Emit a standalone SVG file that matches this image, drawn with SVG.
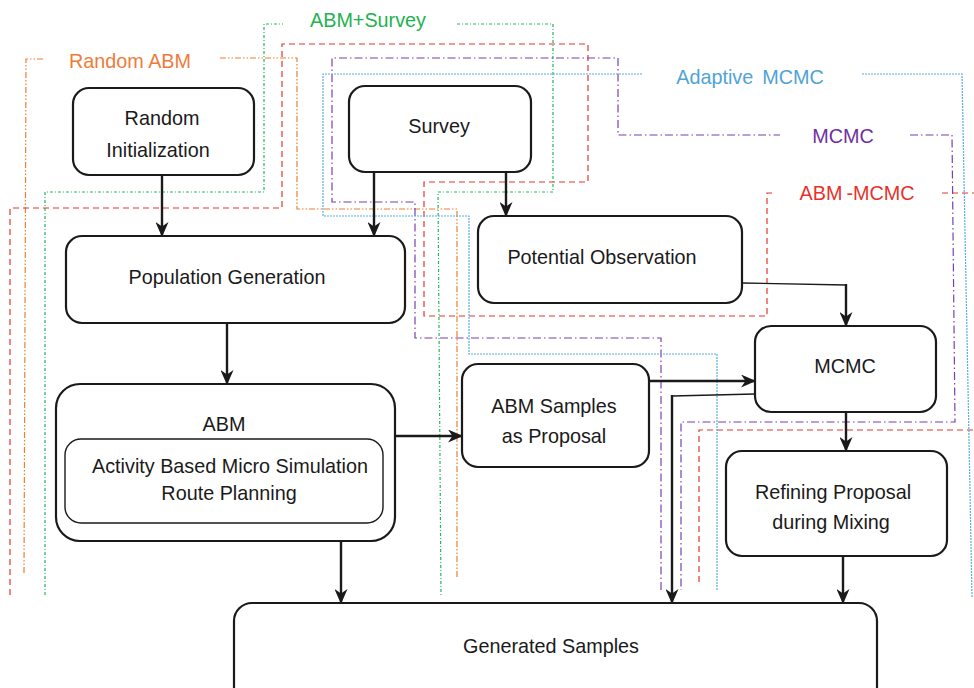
<svg xmlns="http://www.w3.org/2000/svg" width="974" height="688" viewBox="0 0 974 688">
<style>
text{font-family:"Liberation Sans",Arial,Helvetica,sans-serif;font-size:19.8px;fill:#1a1a1a;text-anchor:middle}
.node rect{fill:#fff;stroke:#1a1a1a;stroke-width:2.2}
.inner{fill:none!important;stroke-width:1.4!important}
.c{fill:none;stroke:#1a1a1a;stroke-width:2.4}
.ct{fill:none;stroke:#1a1a1a;stroke-width:1.4}
.g{fill:none;stroke-width:1.2}
.red{stroke:#e5362c;stroke-dasharray:6 4}
.org{stroke:#ef7f30;stroke-dasharray:6 2 1.5 2 1.5 2}
.grn{stroke:#1fb95a;stroke-dasharray:3 2 1 2}
.pur{stroke:#7b3fb0;stroke-dasharray:8 3 1.5 3}
.blu{stroke:#5aaee0;stroke-dasharray:2 1}
</style>
<defs>
<marker id="arr" viewBox="0 0 15 13" refX="14" refY="6.5" markerWidth="15" markerHeight="13" markerUnits="userSpaceOnUse" orient="auto">
<path d="M0,0 L15,6.5 L0,13 L4.5,6.5 Z" fill="#1a1a1a"/>
</marker>
</defs>
<g id="groups">
<path class="g org" d="M24,573 L26,59 L45,59 M220,58 L297,58 L297,209 L457,209 L457,577"/>
<path class="g grn" d="M45,595 L45,192 L264,192 L264,24 L283,24 M457,24 L553,24 L553,192 L438,192 L441,595"/>
<path class="g red" d="M10,595 L10,208 L282,208 L282,44 L588,44 L588,182 L424,182 L424,316 L767,316 L767,193 L775,193 M942,193 L974,193"/>
<path class="g red" d="M699,582 L699,430 L974,430"/>
<path class="g pur" d="M661,590 L661,338 L415,338 L415,202 L332,202 L332,58 L618,58 L618,135 L780,135 M910,135 L952,135 L955,422 L681,422 L681,590"/>
<path class="g blu" d="M717,590 L717,354 L469,354 L469,216 L323,216 L323,74 L642,74 M862,74 L962,74 L972,597"/>
<text x="130" y="68" style="fill:#ef7b3a">Random ABM</text>
<text x="368" y="27" style="fill:#22b24f">ABM+Survey</text>
<text x="750" y="84" style="fill:#4fa3d6">Adaptive<tspan dx="9">MCMC</tspan></text>
<text x="843" y="143" style="fill:#7030a0">MCMC</text>
<text x="857" y="200" style="fill:#e5332a">ABM<tspan dx="4">-MCMC</tspan></text>
</g>
<g id="connectors">
<path class="c" d="M162,175 L162,236" marker-end="url(#arr)"/>
<path class="c" d="M374,172 L374,236" marker-end="url(#arr)"/>
<path class="c" d="M506,172 L506,216" marker-end="url(#arr)"/>
<path class="c" d="M227,323 L227,384" marker-end="url(#arr)"/>
<path class="c" d="M395,436 L462,436" marker-end="url(#arr)"/>
<path class="c" d="M341,541 L341,603" marker-end="url(#arr)"/>
<path class="ct" d="M742,283 L846,285"/>
<path class="c" d="M846,284 L846,326" marker-end="url(#arr)"/>
<path class="c" d="M649,381 L755,381" marker-end="url(#arr)"/>
<path class="ct" d="M755,394 L672,396"/>
<path class="c" d="M672,395 L672,603" marker-end="url(#arr)"/>
<path class="c" d="M846,412 L846,451" marker-end="url(#arr)"/>
<path class="c" d="M843,556 L843,603" marker-end="url(#arr)"/>
</g>
<g id="random-init" class="node"><rect x="73" y="88" width="181" height="87" rx="16"/><text x="162" y="125">Random</text><text x="158" y="157">Initialization</text></g>
<g id="survey" class="node"><rect x="349" y="86" width="182" height="86" rx="16"/><text x="439" y="133">Survey</text></g>
<g id="population-generation" class="node"><rect x="66" y="236" width="339" height="87" rx="16"/><text x="227" y="284">Population Generation</text></g>
<g id="abm" class="node"><rect x="56" y="384" width="339" height="157" rx="24"/><text x="224" y="431">ABM</text>
<rect class="inner" x="65" y="439" width="318" height="84" rx="16"/><text x="230" y="473">Activity Based Micro Simulation</text><text x="229" y="500">Route Planning</text></g>
<g id="potential-observation" class="node"><rect x="478" y="216" width="264" height="87" rx="16"/><text x="602" y="264">Potential Observation</text></g>
<g id="abm-samples" class="node"><rect x="462" y="364" width="187" height="103" rx="16"/><text x="554" y="413">ABM Samples</text><text x="554" y="443">as Proposal</text></g>
<g id="mcmc" class="node"><rect x="755" y="326" width="181" height="86" rx="16"/><text x="845" y="373">MCMC</text></g>
<g id="refining" class="node"><rect x="726" y="451" width="221" height="105" rx="16"/><text x="833" y="499">Refining Proposal</text><text x="831" y="529">during Mixing</text></g>
<g id="generated-samples" class="node"><rect x="234" y="603" width="643" height="110" rx="18"/><text x="551" y="653">Generated Samples</text></g>
</svg>
